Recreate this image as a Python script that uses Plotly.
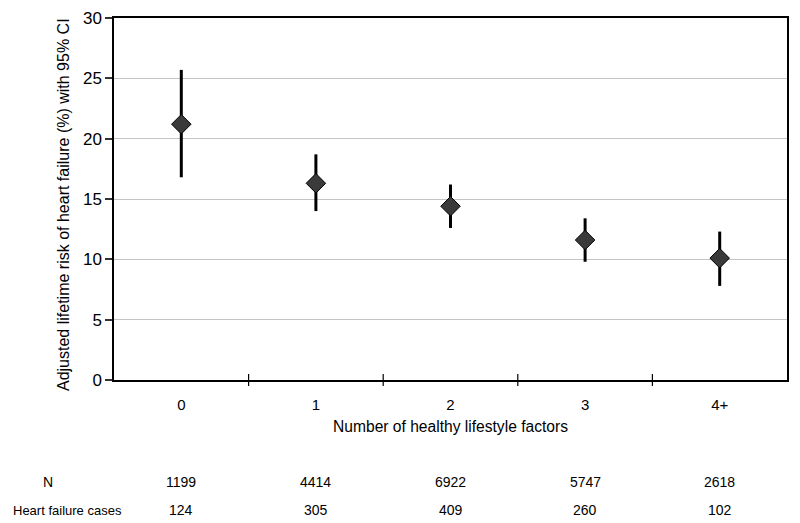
import plotly.graph_objects as go

categories = ["0", "1", "2", "3", "4+"]
risk = [21.2, 16.3, 14.4, 11.6, 10.1]
ci_upper = [25.7, 18.7, 16.2, 13.4, 12.3]
ci_lower = [16.8, 14.0, 12.6, 9.8, 7.8]
n_values = ["1199", "4414", "6922", "5747", "2618"]
hf_cases = ["124", "305", "409", "260", "102"]
y_ticks = [0, 5, 10, 15, 20, 25, 30]

xpos = list(range(len(categories)))
err_plus = [u - r for u, r in zip(ci_upper, risk)]
err_minus = [r - l for r, l in zip(risk, ci_lower)]

FONT = "Liberation Sans, Arial, sans-serif"

# plot area geometry in pixels
W, H = 800, 523
L, R, T, B = 114, 13, 18, 143
plot_w = W - L - R
plot_h = H - T - B

def px_x(px):
    return (px - L) / plot_w

def px_y(py):
    return (H - B - py) / plot_h

fig = go.Figure()
fig.add_trace(go.Scatter(
    x=xpos, y=risk, mode="markers",
    marker=dict(symbol="diamond", size=15, color="#3a3a3a",
                line=dict(color="#000000", width=1)),
    error_y=dict(type="data", symmetric=False, array=err_plus,
                 arrayminus=err_minus, color="#000000", thickness=3, width=0),
    showlegend=False,
))

shapes = []
for i in range(len(categories) - 1):
    shapes.append(dict(type="line", xref="x", yref="paper",
                       x0=i + 0.5, x1=i + 0.5, y0=px_y(386), y1=px_y(374),
                       line=dict(color="#000000", width=1.2)))

annotations = []
# y-axis title
annotations.append(dict(x=px_x(63), y=px_y(205), xref="paper", yref="paper",
                        text="Adjusted lifetime risk of heart failure (%) with 95% CI",
                        textangle=-90, showarrow=False, xanchor="center",
                        yanchor="middle", font=dict(size=16, color="#000")))
row_n, row_hf = px_y(482), px_y(510)
annotations.append(dict(x=px_x(48), y=row_n, xref="paper", yref="paper", text="N",
                        showarrow=False, xanchor="center", yanchor="middle",
                        font=dict(size=14, color="#000")))
annotations.append(dict(x=px_x(67), y=row_hf, xref="paper", yref="paper",
                        text="Heart failure cases", showarrow=False,
                        xanchor="center", yanchor="middle",
                        font=dict(size=13, color="#000")))
for i, v in enumerate(n_values):
    annotations.append(dict(x=xpos[i], y=row_n, xref="x", yref="paper", text=v,
                            showarrow=False, xanchor="center", yanchor="middle",
                            font=dict(size=14, color="#000")))
for i, v in enumerate(hf_cases):
    annotations.append(dict(x=xpos[i], y=row_hf, xref="x", yref="paper", text=v,
                            showarrow=False, xanchor="center", yanchor="middle",
                            font=dict(size=14, color="#000")))

fig.update_layout(
    width=W, height=H,
    margin=dict(l=L, r=R, t=T, b=B),
    paper_bgcolor="white", plot_bgcolor="white",
    font=dict(family=FONT, color="#000"),
    shapes=shapes, annotations=annotations,
    xaxis=dict(
        range=[-0.5, len(categories) - 0.5], automargin=False,
        tickvals=xpos, ticktext=categories, ticks="",
        ticklabelstandoff=10,
        tickfont=dict(size=15), showgrid=False, zeroline=False,
        showline=True, linecolor="#000", linewidth=1.5, mirror=True,
        title=dict(text="Number of healthy lifestyle factors",
                   font=dict(size=15.6), standoff=9),
    ),
    yaxis=dict(
        range=[0, 30], tickvals=y_ticks, ticks="outside", ticklen=7,
        tickcolor="#333", tickwidth=1.5, automargin=False,
        tickfont=dict(size=17), showgrid=True, gridcolor="#c4c4c4",
        gridwidth=1.3, zeroline=False,
        showline=True, linecolor="#000", linewidth=1.5, mirror=True,
    ),
)

fig.write_html(
    "out.html",
    config={"displayModeBar": False},
    post_script="document.body.style.margin='0';document.body.style.overflow='hidden';",
)
